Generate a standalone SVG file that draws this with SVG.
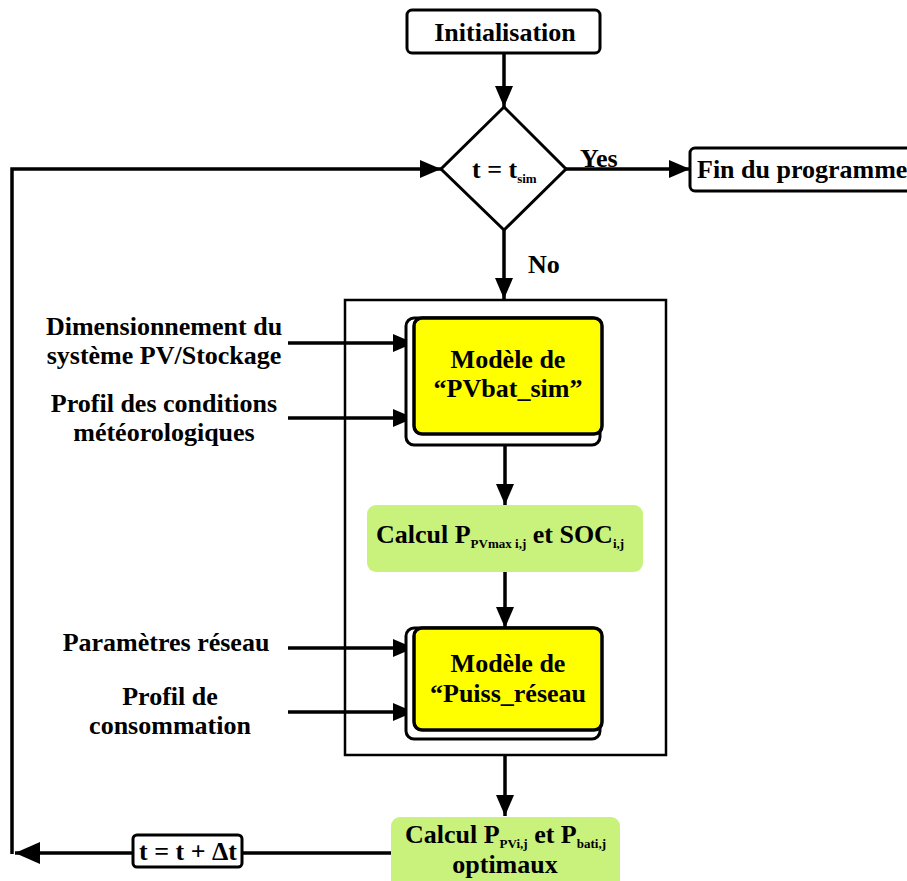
<svg xmlns="http://www.w3.org/2000/svg" width="907" height="881" viewBox="0 0 907 881" font-family="Liberation Serif, serif" font-weight="bold" font-size="26">
<style>
.c{text-anchor:middle}
.box{fill:#fff;stroke:#000;stroke-width:3}
.yel{fill:#ffff00;stroke:#000;stroke-width:3.5}
.grn{fill:#c9f27d;stroke:none}
.ln{fill:none;stroke:#000;stroke-width:3.5}
</style>
<defs>
<marker id="ah" markerUnits="userSpaceOnUse" markerWidth="22" markerHeight="18" refX="21" refY="9" orient="auto">
<path d="M0,0 L21,9 L0,18 z" fill="#000"/>
</marker>
<marker id="ahb" markerUnits="userSpaceOnUse" markerWidth="26" markerHeight="22" refX="25" refY="11" orient="auto">
<path d="M0,0 L25,11 L0,22 z" fill="#000"/>
</marker>
</defs>

<g id="connectors">
<path class="ln" d="M504,53 V107" marker-end="url(#ah)"/>
<path class="ln" d="M566,169 H690" marker-end="url(#ah)"/>
<path class="ln" d="M504,230 V299" marker-end="url(#ah)"/>
<path class="ln" d="M505,446 V505" marker-end="url(#ah)"/>
<path class="ln" d="M505,572 V628" marker-end="url(#ah)"/>
<path class="ln" d="M505,755 V816" marker-end="url(#ah)"/>
<path class="ln" d="M392,853 H15" marker-end="url(#ahb)"/>
<path class="ln" d="M12,854 V169 H441" marker-end="url(#ah)"/>
<path class="ln" d="M288,343 H414" marker-end="url(#ah)"/>
<path class="ln" d="M288,418 H414" marker-end="url(#ah)"/>
<path class="ln" d="M288,648 H414" marker-end="url(#ah)"/>
<path class="ln" d="M288,712 H414" marker-end="url(#ah)"/>
<text x="580" y="167">Yes</text>
<text x="528" y="273">No</text>
</g>

<g id="init">
<rect class="box" x="407" y="10" width="193" height="43" rx="5"/>
<text class="c" x="505" y="41">Initialisation</text>
</g>

<g id="decision">
<polygon class="box" points="504,107 566,169 504,230 441,169"/>
<text x="472" y="178">t = t<tspan font-size="13" dy="5">sim</tspan></text>
</g>

<g id="fin">
<rect class="box" x="690" y="148" width="240" height="43" rx="5" stroke-width="2"/>
<text x="697" y="178">Fin du programme</text>
</g>

<g id="outer">
<rect x="345" y="300" width="321" height="455" fill="none" stroke="#000" stroke-width="2.5"/>
</g>

<g id="pvbat">
<rect class="box" x="406" y="318" width="194" height="127" rx="8"/>
<rect class="yel" x="414" y="318" width="188" height="116" rx="8"/>
<text class="c" x="508" y="368">Modèle de</text>
<text class="c" x="508" y="397">“PVbat_sim”</text>
</g>

<g id="calcul1">
<rect class="grn" x="367" y="505" width="276" height="67" rx="9"/>
<text x="376" y="543">Calcul P<tspan font-size="13" dy="5">PVmax i,j</tspan><tspan dy="-5"> et SOC</tspan><tspan font-size="13" dy="5">i,j</tspan></text>
</g>

<g id="puiss">
<rect class="box" x="406" y="628" width="194" height="111" rx="8"/>
<rect class="yel" x="414" y="628" width="188" height="102" rx="8"/>
<text class="c" x="508" y="672">Modèle de</text>
<text class="c" x="508" y="702">“Puiss_réseau</text>
</g>

<g id="calcul2">
<rect class="grn" x="391" y="817" width="229" height="75" rx="9"/>
<text x="405" y="843">Calcul P<tspan font-size="13" dy="5">PVi,j</tspan><tspan dy="-5"> et P</tspan><tspan font-size="13" dy="5">bati,j</tspan></text>
<text class="c" x="505" y="873">optimaux</text>
</g>

<g id="tinc">
<rect class="box" x="133" y="835" width="109" height="32" rx="4" stroke-width="2"/>
<text class="c" x="188" y="860">t = t + Δt</text>
</g>

<g id="inputs">
<text class="c" x="164" y="335">Dimensionnement du</text>
<text class="c" x="164" y="364">système PV/Stockage</text>
<text class="c" x="164" y="412">Profil des conditions</text>
<text class="c" x="164" y="441">météorologiques</text>
<text class="c" x="166" y="651">Paramètres réseau</text>
<text class="c" x="170" y="705">Profil de</text>
<text class="c" x="170" y="734">consommation</text>
</g>
</svg>
